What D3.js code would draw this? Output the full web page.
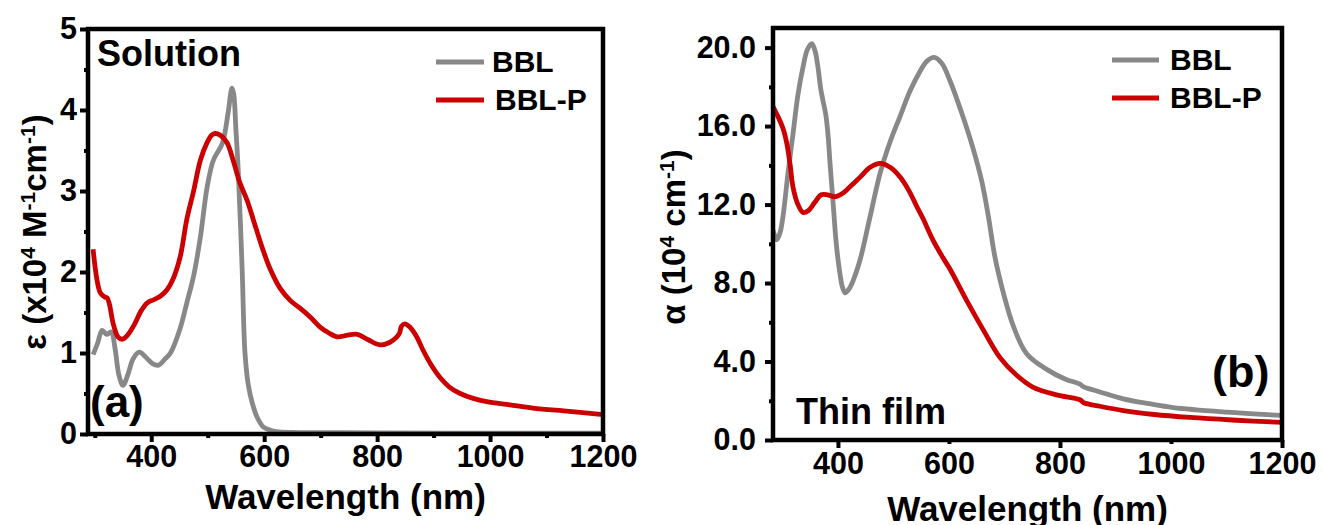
<!DOCTYPE html>
<html><head><meta charset="utf-8">
<script src="https://cdn.jsdelivr.net/npm/d3@7/dist/d3.min.js"></script>
<style>
body{margin:0;background:#fff;}
text{font-family:"Liberation Sans",Arial,sans-serif;font-weight:bold;fill:#000;}
</style></head><body>
<svg id="c" width="1323" height="525"></svg>
<script>
// ---- Data ----
const seriesNames = ["BBL", "BBL-P"];
const seriesColors = ["#888888", "#cc0000"];

// Panel (a): Solution, epsilon (x10^4 M^-1 cm^-1)
const solBBL = [[297,0.98],[305,1.12],[313,1.28],[321,1.23],[329,1.26],[336,1.05],[343,0.72],[350,0.6],[358,0.72],[368,0.93],[379,1.01],[390,0.95],[402,0.87],[413,0.85],[425,0.93],[434,1.0],[451,1.3],[463,1.62],[475,1.95],[487,2.43],[499,3.05],[510,3.38],[526,3.59],[536,3.96],[543,4.27],[546,4.2],[550,3.75],[554,3.26],[561,2.03],[566,1.0],[572,0.6],[579,0.38],[588,0.2],[598,0.09],[610,0.05],[622,0.03],[650,0.02],[800,0.015],[1000,0.01],[1200,0.01]];
const solBBLP = [[297,2.28],[304,1.9],[310,1.74],[318,1.69],[322,1.68],[326,1.6],[333,1.35],[341,1.2],[349,1.17],[358,1.22],[370,1.35],[382,1.52],[393,1.62],[405,1.66],[416,1.7],[428,1.78],[439,1.92],[451,2.18],[463,2.65],[475,3.0],[487,3.38],[499,3.6],[507,3.69],[513,3.71],[522,3.69],[534,3.6],[545,3.38],[557,3.1],[570,2.88],[581,2.64],[598,2.27],[611,2.03],[628,1.8],[646,1.65],[664,1.55],[682,1.44],[699,1.32],[714,1.25],[729,1.2],[748,1.22],[765,1.23],[785,1.16],[805,1.1],[822,1.13],[835,1.2],[840,1.25],[843,1.33],[849,1.36],[858,1.32],[870,1.2],[881,1.04],[895,0.86],[911,0.7],[928,0.58],[947,0.5],[970,0.44],[994,0.4],[1035,0.36],[1076,0.32],[1140,0.28],[1200,0.24]];

// Panel (b): Thin film, alpha (10^4 cm^-1)
const filmBBL = [[283,10.7],[290,10.2],[296,10.6],[301,11.4],[310,13.6],[319,15.6],[328,17.6],[337,19.0],[345,19.9],[353,20.2],[359,19.8],[364,19.0],[369,17.9],[373,17.3],[378,16.6],[382,15.6],[386,14.0],[391,12.2],[397,10.0],[404,8.4],[408,7.8],[413,7.5],[420,7.7],[427,8.1],[440,9.2],[458,11.4],[476,13.6],[494,15.2],[512,16.5],[530,17.8],[548,18.8],[560,19.3],[573,19.5],[587,19.2],[602,18.3],[625,16.5],[643,14.9],[659,13.2],[671,11.4],[683,9.3],[698,7.5],[716,5.8],[740,4.4],[776,3.6],[810,3.1],[836,2.85],[842,2.72],[872,2.45],[914,2.1],[960,1.85],[1004,1.65],[1100,1.42],[1200,1.25]];
const filmBBLP = [[283,17.0],[290,16.6],[295,16.3],[302,15.8],[308,15.1],[314,14.0],[319,12.9],[328,12.0],[337,11.6],[347,11.7],[358,12.1],[370,12.5],[381,12.5],[395,12.4],[410,12.6],[425,13.0],[440,13.4],[458,13.9],[476,14.1],[494,13.9],[512,13.4],[530,12.6],[542,11.9],[553,11.3],[571,10.2],[589,9.3],[602,8.7],[632,7.1],[662,5.6],[692,4.2],[722,3.3],[751,2.7],[794,2.3],[836,2.05],[843,1.9],[872,1.72],[914,1.5],[970,1.3],[1034,1.15],[1110,1.02],[1200,0.9]];

// Tick values
const solXMajor = [400,600,800,1000,1200];
const solXMinor = [300,500,700,900,1100];
const solYMajor = [0,1,2,3,4,5];
const solYMinor = [0.5,1.5,2.5,3.5,4.5];
const filmXLabels = [400,600,800,1000,1200];
const filmXMajor = [400,800,1200];
const filmXMinor = [600,1000];
const filmYMajor = [0,4,8,12,16,20];
const filmYMinor = [2,6,10,14,18];

// ---- Drawing ----
const svg = d3.select("#c");

function panel(cfg){
  const g = svg.append("g");
  const x = d3.scaleLinear().domain(cfg.xDomain).range(cfg.xRange);
  const y = d3.scaleLinear().domain(cfg.yDomain).range(cfg.yRange);
  const id = "clip" + cfg.key;
  svg.append("clipPath").attr("id", id).append("rect")
    .attr("x", cfg.xRange[0]).attr("y", cfg.yRange[1])
    .attr("width", cfg.xRange[1]-cfg.xRange[0]).attr("height", cfg.yRange[0]-cfg.yRange[1]);

  const line = d3.line().x(d=>x(d[0])).y(d=>y(d[1])).curve(d3.curveCatmullRom.alpha(0.5));
  cfg.series.forEach((s,i)=>{
    g.append("path").attr("d", line(s)).attr("fill","none")
      .attr("stroke", seriesColors[i]).attr("stroke-width", 4.8)
      .attr("stroke-linejoin","round").attr("clip-path", `url(#${id})`);
  });

  // frame
  g.append("rect").attr("x", cfg.xRange[0]).attr("y", cfg.yRange[1])
    .attr("width", cfg.xRange[1]-cfg.xRange[0]).attr("height", cfg.yRange[0]-cfg.yRange[1])
    .attr("fill","none").attr("stroke","#000").attr("stroke-width",4.5);

  // axes
  const xa = g.append("g").attr("transform", `translate(0,${cfg.yRange[0]})`)
    .call(d3.axisBottom(x).tickValues(cfg.xLabels).tickSize(0).tickPadding(cfg.xPad).tickFormat(d3.format("d")));
  xa.select(".domain").remove();
  xa.selectAll("text").style("font-size","30.5px");
  const xM = g.append("g").attr("transform", `translate(0,${cfg.yRange[0]})`)
    .call(d3.axisBottom(x).tickValues(cfg.xMajor).tickSize(8).tickFormat(""));
  xM.select(".domain").remove();
  const xm = g.append("g").attr("transform", `translate(0,${cfg.yRange[0]})`)
    .call(d3.axisBottom(x).tickValues(cfg.xMinor).tickSize(4).tickFormat(""));
  xm.select(".domain").remove();

  const ya = g.append("g").attr("transform", `translate(${cfg.xRange[0]},0)`)
    .call(d3.axisLeft(y).tickValues(cfg.yMajor).tickSize(8).tickPadding(cfg.yPad).tickFormat(cfg.yFmt));
  ya.select(".domain").remove();
  ya.selectAll("text").style("font-size","30.5px");
  const ym = g.append("g").attr("transform", `translate(${cfg.xRange[0]},0)`)
    .call(d3.axisLeft(y).tickValues(cfg.yMinor).tickSize(4).tickFormat(""));
  ym.select(".domain").remove();
  g.selectAll(".tick line").attr("stroke-width", 4).attr("stroke","#000");

  // x title
  g.append("text").attr("x", (cfg.xRange[0]+cfg.xRange[1])/2).attr("y", cfg.xTitleY)
    .attr("text-anchor","middle").style("font-size","35px").text("Wavelength (nm)");

  // y title
  const yt = g.append("text").attr("transform", `translate(${cfg.yTitleX},${cfg.yTitleY}) rotate(-90)`)
    .attr("text-anchor","middle").style("font-size","33px");
  cfg.yTitle.forEach(p=>{
    const t = yt.append("tspan").text(p[0]);
    if(p[1]) t.attr("baseline-shift","super").style("font-size","21px");
  });

  // legend
  seriesNames.forEach((n,i)=>{
    g.append("line").attr("x1", cfg.legX[0]).attr("x2", cfg.legX[1])
      .attr("y1", cfg.legY[i]).attr("y2", cfg.legY[i])
      .attr("stroke", seriesColors[i]).attr("stroke-width",5);
    g.append("text").attr("x", cfg.legTX[i]).attr("y", cfg.legY[i]+9.5)
      .style("font-size","30px").text(n);
  });

  // labels
  cfg.labels.forEach(l=>{
    g.append("text").attr("x", l.x).attr("y", l.y).style("font-size", l.s+"px").text(l.t);
  });
}

panel({
  key:"a", xDomain:[288,1200], xRange:[88,603], yDomain:[0,5], yRange:[434,29],
  series:[solBBL, solBBLP], xLabels: solXMajor, xMajor: solXMajor, xMinor: solXMinor,
  yMajor: solYMajor, yMinor: solYMinor, yFmt: d3.format("d"), xPad:11, yPad:3,
  xTitleY:509, yTitleX:46, yTitleY:232,
  yTitle:[["ε (x10"],["4",1],[" M"],["-1",1],["cm"],["-1",1],[")"]],
  legX:[436,484], legY:[62,100], legTX:[492,495],
  labels:[{t:"Solution",x:97,y:66,s:36},{t:"(a)",x:90,y:417,s:44}]
});

panel({
  key:"b", xDomain:[283,1200], xRange:[773,1282], yDomain:[0,21], yRange:[440,28],
  series:[filmBBL, filmBBLP], xLabels: filmXLabels, xMajor: filmXMajor, xMinor: filmXMinor,
  yMajor: filmYMajor, yMinor: filmYMinor, yFmt: d3.format(".1f"), xPad:12, yPad:9,
  xTitleY:521, yTitleX:685, yTitleY:237,
  yTitle:[["α (10"],["4",1],[" cm"],["-1",1],[")"]],
  legX:[1112,1159], legY:[60,98], legTX:[1170,1170],
  labels:[{t:"Thin film",x:796,y:424,s:36},{t:"(b)",x:1212,y:387,s:45}]
});
</script>
</body></html>
